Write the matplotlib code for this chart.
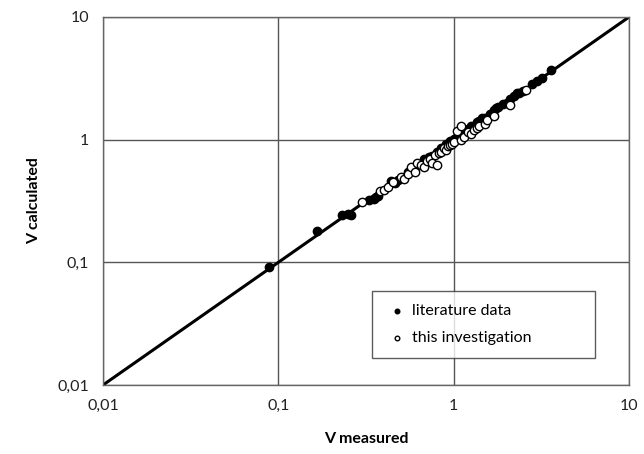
import matplotlib
matplotlib.use("Agg")
import matplotlib.pyplot as plt
from matplotlib.ticker import FixedLocator, NullLocator

plt.rcParams['font.family'] = ['Lato', 'DejaVu Sans']

lit_x = [0.088, 0.165, 0.23, 0.25, 0.26, 0.33, 0.35, 0.36, 0.37, 0.44, 0.46, 0.48,
         0.55, 0.58, 0.6, 0.62, 0.68, 0.72, 0.75, 0.8, 0.85, 0.9, 0.95, 1.0, 1.05, 1.1,
         1.15, 1.2, 1.25, 1.3, 1.35, 1.4, 1.45, 1.5, 1.6, 1.7, 1.75, 1.8, 1.9, 2.0, 2.1,
         2.2, 2.3, 2.35, 2.5, 2.8, 3.0, 3.2, 3.6]
lit_y = [0.092, 0.18, 0.245, 0.25, 0.245, 0.32, 0.33, 0.34, 0.35, 0.46, 0.44, 0.47,
         0.55, 0.58, 0.6, 0.62, 0.7, 0.72, 0.74, 0.8, 0.85, 0.92, 0.97, 1.02, 1.05, 1.1,
         1.15, 1.22, 1.3, 1.3, 1.38, 1.42, 1.5, 1.5, 1.62, 1.75, 1.8, 1.85, 1.95, 2.0, 2.15,
         2.25, 2.4, 2.4, 2.5, 2.85, 3.0, 3.2, 3.7]

inv_x = [0.3, 0.38, 0.4, 0.42, 0.45, 0.5, 0.52, 0.55, 0.57, 0.6, 0.62, 0.65, 0.68, 0.7,
         0.73, 0.75, 0.78, 0.8, 0.82, 0.85, 0.88, 0.9, 0.93, 0.95, 0.98, 1.0, 1.05, 1.1,
         1.1, 1.15, 1.2, 1.25, 1.3, 1.35, 1.4, 1.5, 1.55, 1.7, 2.1, 2.6]
inv_y = [0.31, 0.38, 0.39, 0.41, 0.45, 0.5, 0.48, 0.52, 0.6, 0.55, 0.64, 0.62, 0.6, 0.67,
         0.7, 0.65, 0.75, 0.62, 0.78, 0.8, 0.85, 0.82, 0.88, 0.9, 0.93, 0.95, 1.18, 1.0,
         1.3, 1.05, 1.15, 1.12, 1.2, 1.25, 1.3, 1.35, 1.45, 1.55, 1.9, 2.55]

line_vals = [0.01, 10]
ticks = [0.01, 0.1, 1, 10]
tick_labels = ["0,01", "0,1", "1", "10"]

fig = plt.figure(figsize=(6.44, 4.54), dpi=100)
ax = fig.add_axes([0.16, 0.152, 0.8168, 0.8106])
ax.set_xscale('log')
ax.set_yscale('log')
ax.set_xlim(0.01, 10)
ax.set_ylim(0.01, 10)

ax.plot(line_vals, line_vals, color='black', lw=2.2, zorder=2)
ax.scatter(lit_x, lit_y, s=36, color='black', zorder=3, label='literature data')
ax.scatter(inv_x, inv_y, s=36, facecolor='white', edgecolor='black', linewidths=1.0,
           zorder=4, label='this investigation')

ax.xaxis.set_major_locator(FixedLocator(ticks))
ax.yaxis.set_major_locator(FixedLocator(ticks))
ax.xaxis.set_minor_locator(NullLocator())
ax.yaxis.set_minor_locator(NullLocator())
ax.set_xticklabels(tick_labels)
ax.set_yticklabels(tick_labels)
ax.tick_params(length=0, labelsize=11.5, pad=10, colors='#222222')
ax.grid(True, color='#555555', lw=1.0, zorder=0)
for s in ax.spines.values():
    s.set_color('#666666')
    s.set_linewidth(1.0)

ax.set_xlabel('V measured', fontsize=11.5, fontweight='bold', labelpad=14)
ax.set_ylabel('V calculated', fontsize=11.5, fontweight='bold', labelpad=12)

leg = ax.legend(loc='lower left', bbox_to_anchor=(0.511, 0.073, 0.424, 0.185),
                mode='expand', frameon=True, fancybox=False, fontsize=11.5,
                handletextpad=0.1, markerscale=0.55, borderpad=0.8, labelspacing=0.8,
                handlelength=1.6, borderaxespad=0)
leg.get_frame().set_edgecolor('#333333')
leg.get_frame().set_linewidth(1.0)
leg.set_zorder(5)

fig.savefig('out.png', dpi=100, facecolor='white')
